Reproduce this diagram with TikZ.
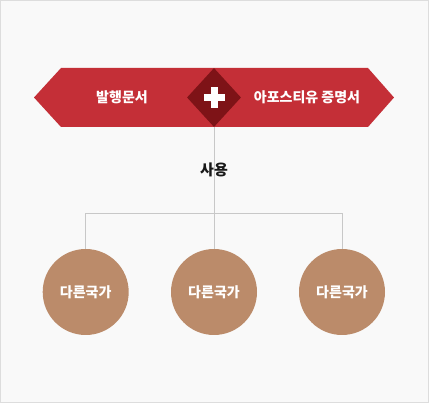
\documentclass[tikz,border=0pt]{standalone}
\usepackage{fontspec}
\setmainfont{Noto Sans CJK KR}
\usetikzlibrary{shapes.geometric}
\definecolor{bg}{HTML}{F9F9F9}
\definecolor{frame}{HTML}{DDDDDD}
\definecolor{bannerred}{HTML}{C42F37}
\definecolor{darkred}{HTML}{7E1317}
\definecolor{tan}{HTML}{BB8B6A}
\definecolor{linegray}{HTML}{C8C8C8}
\begin{document}
\begin{tikzpicture}[x=1pt,y=-1pt,
  wtext/.style={text=white,font=\bfseries\fontsize{14}{16}\selectfont,inner sep=0},
  country/.style={circle,fill=tan,minimum size=86pt,inner sep=0,text=white,font=\bfseries\fontsize{14}{16}\selectfont},
  conn/.style={draw=linegray,line width=1pt}]
\useasboundingbox (0,0) rectangle (429,403);
\fill[bg] (0,0) rectangle (429,403);
\draw[frame,line width=1pt] (0.5,0.5) rectangle (428.5,402.5);
% banner
\fill[bannerred] (34,97.5) -- (61,68) -- (368,68) -- (394,97.5) -- (368,127) -- (61,127) -- cycle;
\node[wtext] (issue) at (122,97.5) {발행문서};
\node[wtext] (apost) at (307,97.5) {아포스티유 증명서};
\node[diamond,fill=darkred,minimum width=54pt,minimum height=59pt,inner sep=0] (dia) at (214,97.5) {};
\fill[white] (203.5,94) rectangle (224.5,101);
\fill[white] (210.5,87) rectangle (217.5,108);
% connectors
\coordinate (hub) at (214,214);
\node[country] (c1) at (85.7,292) {다른국가};
\node[country] (c2) at (214,292) {다른국가};
\node[country] (c3) at (342,292) {다른국가};
\draw[conn] (dia.south) -- (hub);
\draw[conn] (hub) -| (c1.north);
\draw[conn] (hub) -- (c2.north);
\draw[conn] (hub) -| (c3.north);
\node[inner sep=0,font=\bfseries\fontsize{15}{17}\selectfont,text=black!90] (use) at (214,170) {사용};
\end{tikzpicture}
\end{document}
